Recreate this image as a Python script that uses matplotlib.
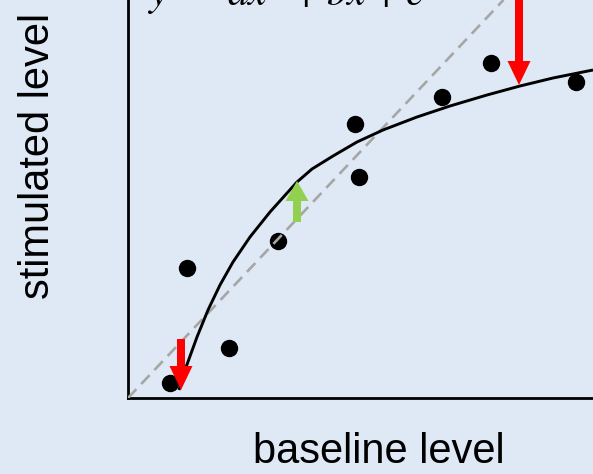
import matplotlib
matplotlib.use("Agg")
import matplotlib.pyplot as plt

plt.rcParams['mathtext.fontset'] = 'stix'

# data values (arbitrary units)
point_x = [42, 59, 101, 150, 227, 231, 314, 363, 448]
point_y = [15, 130, 50, 157, 274, 221, 301, 335, 316]

curve_x = [51, 57, 69, 80, 92, 105, 122, 142, 169, 184, 205, 229, 255, 289,
           322, 359, 392, 425, 465]
curve_y = [8, 28, 61, 88, 113, 136, 161, 186, 216, 229, 242, 256, 268, 281,
           292, 303, 312, 320, 328]

diag_slope = 1.06

# arrows: (x, start_y, end_y)
red_arrows = [(391, 430, 313), (53, 59, 8)]
green_arrows = [(169, 176, 217)]

bg = '#dee9f5'
W, H = 593, 474
fig = plt.figure(figsize=(W / 100, H / 100), dpi=100, facecolor=bg)
ax = fig.add_axes([128 / W, 76 / H, 465 / W, 398 / H], facecolor=bg)
ax.set_xlim(0, 465)
ax.set_ylim(0, 398)
for s in ['top', 'right']:
    ax.spines[s].set_visible(False)
for s in ['left', 'bottom']:
    ax.spines[s].set_linewidth(2.0)
    ax.spines[s].set_color('black')
ax.set_xticks([])
ax.set_yticks([])

ax.plot(point_x, point_y, 'o', color='black', markersize=11.5, zorder=2)
ax.axline((0, 0), slope=diag_slope, color='#a6a6a6', lw=1.9,
          dashes=(4.6, 2.7), zorder=3)
ax.plot(curve_x, curve_y, color='black', lw=2.1, zorder=3,
        solid_joinstyle='round', solid_capstyle='butt')

for x, y0, y1 in red_arrows:
    ax.arrow(x, y0, 0, y1 - y0, width=8, head_width=23, head_length=24,
             length_includes_head=True, color='#ff0000', lw=0, zorder=4,
             clip_on=True)
for x, y0, y1 in green_arrows:
    ax.arrow(x, y0, 0, y1 - y0, width=8, head_width=23, head_length=20,
             length_includes_head=True, color='#92d050', lw=0, zorder=4)

fig.text(147 / W, 1 - 6 / H, r'$y\ =\ ax^2 + bx + c$', fontsize=30,
         ha='left', va='baseline')
fig.text(379 / W, 11 / H, 'baseline level', fontsize=30,
         family='Liberation Sans', ha='center', va='baseline')
fig.text(38 / W, 1 - 156 / H, 'stimulated level', fontsize=30,
         family='Liberation Sans', ha='center', va='center', rotation=90)

fig.savefig('out.png', dpi=100, facecolor=bg)
